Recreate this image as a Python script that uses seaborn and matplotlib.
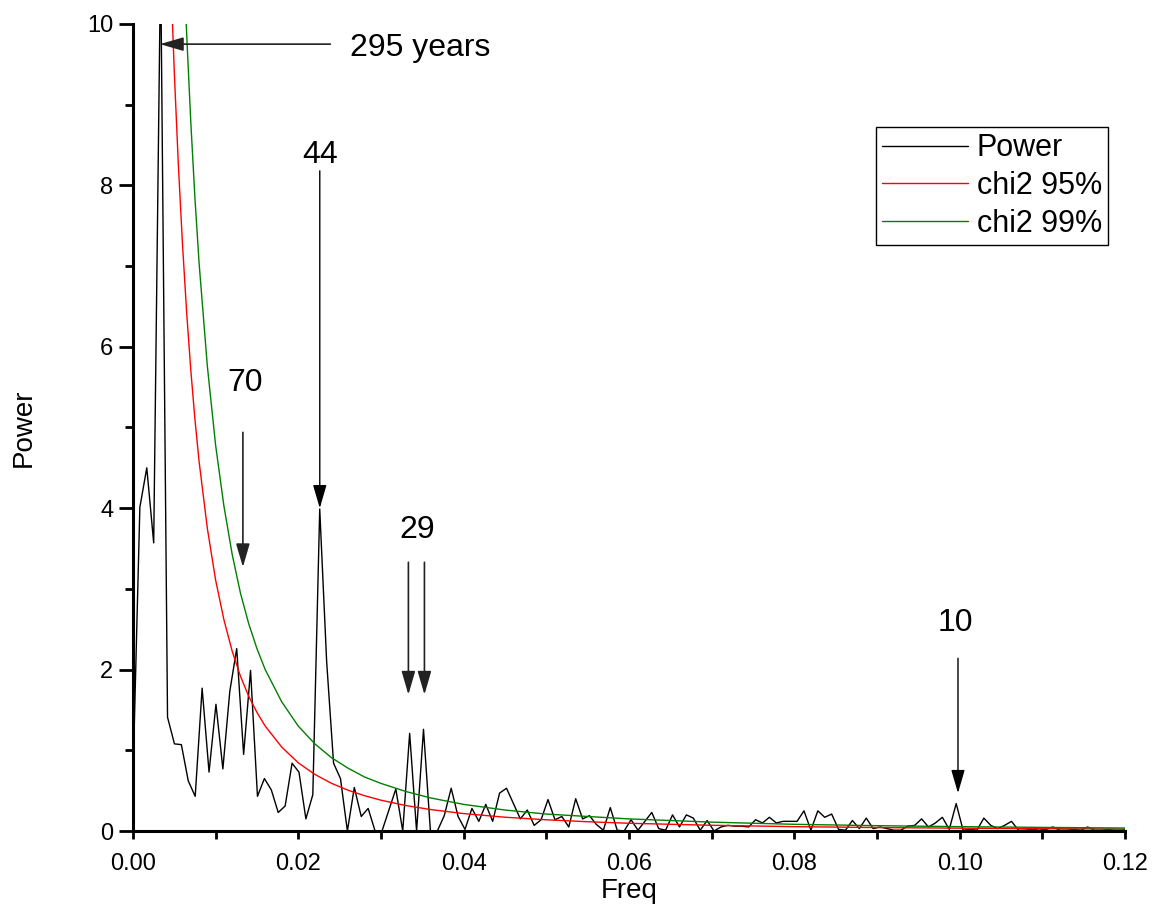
import numpy as np
import pandas as pd
import matplotlib
matplotlib.use('Agg')
import matplotlib.pyplot as plt
import seaborn as sns

# --- data ---
# spectral power at frequency step 1/1195 (index 0 = 0.0)
df_step = 1.0 / 1195.0
power = [0.65, 4.01, 4.50, 3.57, 10.8, 1.41, 1.08, 1.07, 0.62, 0.43,
         1.77, 0.73, 1.57, 0.77, 1.73, 2.26, 0.95, 1.99, 0.43, 0.65,
         0.51, 0.23, 0.31, 0.84, 0.73, 0.15, 0.45, 3.99, 2.10, 0.84,
         0.65, 0.00, 0.54, 0.18, 0.28, 0.00, 0.00, 0.26, 0.52, 0.00,
         1.21, 0.00, 1.26, 0.00, 0.00, 0.19, 0.53, 0.18, 0.02, 0.28,
         0.12, 0.33, 0.12, 0.47, 0.53, 0.34, 0.15, 0.26, 0.07, 0.14,
         0.39, 0.14, 0.18, 0.05, 0.40, 0.15, 0.19, 0.08, 0.01, 0.29,
         0.01, 0.00, 0.14, 0.01, 0.12, 0.23, 0.03, 0.01, 0.20, 0.05,
         0.20, 0.16, 0.01, 0.13, 0.00, 0.05, 0.07, 0.06, 0.06, 0.05,
         0.14, 0.10, 0.17, 0.10, 0.12, 0.12, 0.12, 0.25, 0.01, 0.25,
         0.17, 0.21, 0.02, 0.01, 0.13, 0.03, 0.16, 0.03, 0.05, 0.03,
         0.01, 0.01, 0.06, 0.07, 0.15, 0.05, 0.10, 0.17, 0.02, 0.34,
         0.01, 0.02, 0.01, 0.16, 0.07, 0.03, 0.07, 0.12, 0.01, 0.01,
         0.02, 0.01, 0.02, 0.05, 0.01, 0.01, 0.02, 0.01, 0.05, 0.01,
         0.01, 0.02, 0.01, 0.01, 0.03]
freq = np.arange(len(power)) * df_step

# significance curves (read at these frequencies)
chi_freq = [0.004, 0.0045, 0.005, 0.0055, 0.006, 0.0065, 0.007, 0.0075,
            0.008, 0.009, 0.010, 0.011, 0.012, 0.013, 0.014, 0.015, 0.016,
            0.018, 0.020, 0.022, 0.024, 0.026, 0.028, 0.030, 0.033, 0.036,
            0.040, 0.045, 0.050, 0.055, 0.060, 0.070, 0.080, 0.090, 0.100,
            0.110, 0.120]
chi95 = [12.4, 10.8, 9.41, 8.24, 7.26, 6.42, 5.71, 5.10,
         4.58, 3.75, 3.11, 2.62, 2.23, 1.92, 1.67, 1.47, 1.30,
         1.04, 0.845, 0.702, 0.592, 0.506, 0.438, 0.382, 0.316, 0.266,
         0.216, 0.171, 0.139, 0.115, 0.096, 0.071, 0.054, 0.043, 0.035,
         0.029, 0.024]
chi99 = [19.1, 16.6, 14.5, 12.66, 11.16, 9.87, 8.78, 7.84,
         7.04, 5.76, 4.78, 4.03, 3.43, 2.95, 2.57, 2.26, 2.00,
         1.60, 1.30, 1.08, 0.91, 0.78, 0.67, 0.59, 0.49, 0.41,
         0.33, 0.26, 0.21, 0.18, 0.15, 0.11, 0.083, 0.066, 0.054,
         0.045, 0.037]

peak_labels = ['295 years', '44', '70', '29', '10']

df_pow = pd.DataFrame({'Freq': freq, 'Power': power})
df_chi = pd.DataFrame({'Freq': chi_freq, 'c95': chi95, 'c99': chi99})

sns.set_style('ticks')
plt.rcParams['font.family'] = ['Liberation Sans', 'DejaVu Sans']
plt.rcParams['text.color'] = 'black'
plt.rcParams['axes.labelcolor'] = 'black'
plt.rcParams['xtick.color'] = 'black'
plt.rcParams['ytick.color'] = 'black'

fig = plt.figure(figsize=(11.53, 9.11), dpi=100)
ax = fig.add_axes([0.1153, 0.0878, 0.8604, 0.8859])

sns.lineplot(data=df_pow, x='Freq', y='Power', color='black', lw=1.0,
             label='Power', ax=ax)
sns.lineplot(data=df_chi, x='Freq', y='c95', color='#ff0000', lw=1.0,
             label='chi2 95%', ax=ax)
sns.lineplot(data=df_chi, x='Freq', y='c99', color='#008000', lw=1.0,
             label='chi2 99%', ax=ax)

ax.set_xlim(0, 0.12)
ax.set_ylim(0, 10)
xt = np.arange(0, 0.121, 0.02)
ax.set_xticks(xt)
ax.set_xticks(np.arange(0.01, 0.12, 0.02), minor=True)
ax.set_xticklabels([f'{v:.2f}' for v in xt])
ax.set_yticks([0, 2, 4, 6, 8, 10])
ax.set_yticks([1, 3, 5, 7, 9], minor=True)
ax.tick_params(axis='both', which='major', labelsize=17, length=10,
               width=2, direction='out', pad=4)
ax.tick_params(axis='both', which='minor', length=6, width=2,
               direction='out')
ax.tick_params(axis='x', which='major', length=6, pad=10)
for s in ['top', 'right']:
    ax.spines[s].set_visible(False)
for s in ['left', 'bottom']:
    ax.spines[s].set_linewidth(2.2)
    ax.spines[s].set_color('black')
ax.set_xlabel('Freq', fontsize=20, labelpad=2)
ax.set_ylabel('Power', fontsize=20, labelpad=36)

leg = ax.legend(loc='upper right', bbox_to_anchor=(0.983, 0.872),
                fontsize=22, frameon=True, fancybox=False, framealpha=1,
                edgecolor='black', handlelength=2.8, handletextpad=0.3,
                borderpad=0.2, labelspacing=0.25, borderaxespad=0)
leg.get_frame().set_linewidth(1.0)


def arrow(x0, y0, x1, y1, color='black', lw=1.0):
    ax.annotate('', xy=(x1, y1), xytext=(x0, y0),
                arrowprops=dict(arrowstyle='-|>,head_length=1.2,head_width=0.35',
                                mutation_scale=12, color=color, lw=lw,
                                shrinkA=0, shrinkB=0))


# 295 years
ax.text(0.0262, 9.7, peak_labels[0], fontsize=23, ha='left', va='center')
arrow(0.02387, 9.75, 0.00327, 9.75, color='#222222', lw=1.2)
# 44
ax.text(0.0227, 8.38, peak_labels[1], fontsize=23, ha='center', va='center')
arrow(0.0226, 8.18, 0.0226, 4.0)
# 70
ax.text(0.01355, 5.55, peak_labels[2], fontsize=23, ha='center', va='center')
arrow(0.0133, 4.94, 0.0133, 3.27, color='#222222', lw=1.2)
# 29
ax.text(0.03435, 3.73, peak_labels[3], fontsize=23, ha='center', va='center')
arrow(0.03332, 3.33, 0.03332, 1.69, color='#222222', lw=1.2)
arrow(0.03526, 3.33, 0.03526, 1.69, color='#222222', lw=1.2)
# 10
ax.text(0.0995, 2.58, peak_labels[4], fontsize=23, ha='center', va='center')
arrow(0.0998, 2.14, 0.0998, 0.47)

fig.savefig('out.png', dpi=100)
